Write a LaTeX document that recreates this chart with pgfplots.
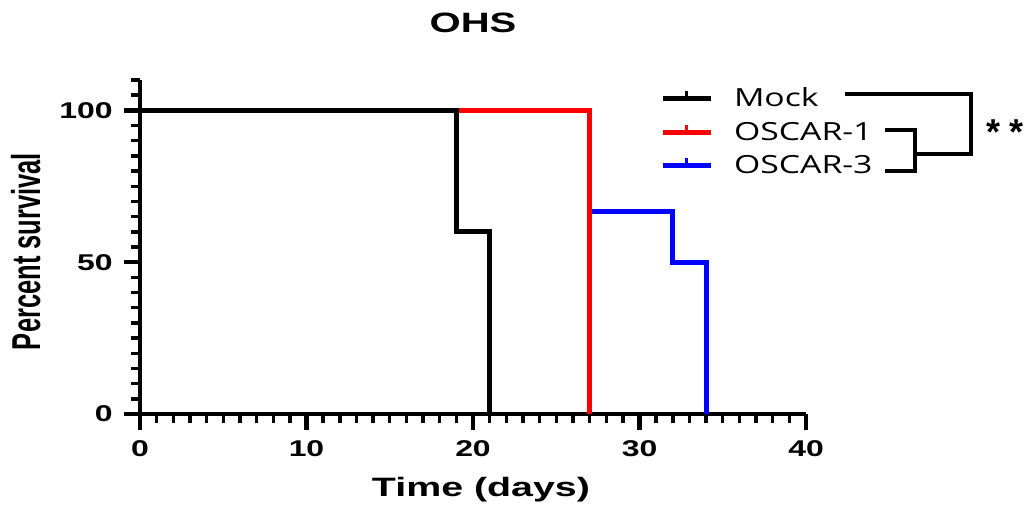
\documentclass[border=0pt]{standalone}
\usepackage{fontspec}
\setmainfont{Liberation Sans}
\newfontfamily\legfont{Open Sans}
\usepackage{pgfplots}
\pgfplotsset{compat=1.18}
\begin{document}
\begin{tikzpicture}
\useasboundingbox (0,0) rectangle (513pt,253pt);
\begin{axis}[
  at={(70pt,46pt)}, anchor=south west,
  scale only axis, width=333pt, height=167pt,
  xmin=0, xmax=40, ymin=0, ymax=110,
  clip=false,
  axis x line*=bottom, axis y line*=left,
  axis line style={line width=2pt, black},
  xtick={0,10,20,30,40}, minor xtick={0,1,...,40},
  ytick={0,50,100}, minor ytick={0,5,...,110},
  tick align=outside,
  major tick length=8pt, minor tick length=4.75pt,
  every major tick/.append style={line width=2.2pt, black},
  every minor tick/.append style={line width=1.7pt, black},
  xticklabel style={inner sep=0pt, yshift=-5pt},
  yticklabel style={inner sep=0pt, xshift=-5.5pt},
  xticklabel={\fontsize{11.4}{13}\selectfont\bfseries\scalebox{1.4}[1]{\pgfmathprintnumber[assume math mode=true]{\tick}}},
  yticklabel={\fontsize{11.4}{13}\selectfont\bfseries\scalebox{1.4}[1]{\pgfmathprintnumber[assume math mode=true]{\tick}}},
  legend style={draw=none, fill=none, at={(0.7808,0.988)}, anchor=north west,
    inner sep=0pt, outer sep=0pt, column sep=8.5pt, row sep=2pt,
    font=\legfont\fontsize{12.5}{14}\selectfont},
  legend cell align=left,
  legend image code/.code={\draw[#1] (0pt,0pt) -- (24pt,0pt); \draw[#1, line width=1.5pt] (12pt,1pt) -- (12pt,4pt);},
]
\addlegendimage{black, line width=2.5pt}
\addlegendentry{\scalebox{1.35}[1]{Mock}}
\addlegendimage{red, line width=2.5pt}
\addlegendentry{\scalebox{1.35}[1]{OSCAR-1}}
\addlegendimage{blue, line width=2.5pt}
\addlegendentry{\scalebox{1.35}[1]{OSCAR-3}}
\addplot[blue, line width=2.5pt, const plot, forget plot] coordinates {(0,100) (27,66.67) (32,50) (34,0)};
\addplot[red, line width=2.5pt, const plot, forget plot] coordinates {(0,100) (27,0)};
\addplot[black, line width=2.5pt, const plot, forget plot] coordinates {(0,100) (19,60) (21,0)};
\end{axis}
\begin{scope}[shift={(0pt,253pt)}, x=0.5pt, y=-0.5pt]
\node[font=\fontsize{14}{16}\selectfont\bfseries, anchor=base, inner sep=0pt] at (473,33) {\scalebox{1.43}[1]{OHS}};
\node[font=\fontsize{13.3}{15}\selectfont\bfseries, anchor=base, inner sep=0pt] at (481,497) {\scalebox{1.48}[1]{Time (days)}};
\node[font=\fontsize{12.75}{15}\selectfont\bfseries, rotate=90, anchor=base, inner sep=0pt] at (40,251.5) {\scalebox{1}[1.58]{Percent survival}};
\draw[line width=2pt, line join=miter] (845,94) -- (971,94) -- (971,154) -- (915,154);
\draw[line width=2pt, line join=miter] (885,130) -- (915,130) -- (915,171) -- (885,171);
\node[font=\fontsize{18}{20}\selectfont\bfseries, anchor=base, inner sep=0pt] at (1005,145) {*\hspace{5pt}*};
\end{scope}
\end{tikzpicture}
\end{document}
